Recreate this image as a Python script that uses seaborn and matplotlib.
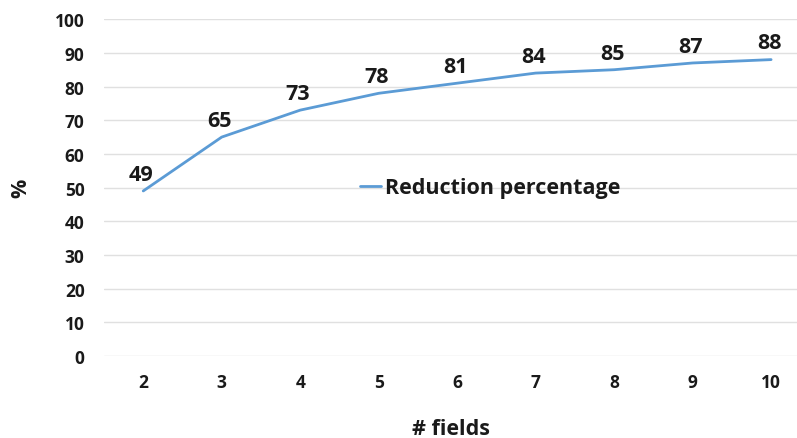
import matplotlib
matplotlib.use("Agg")
import matplotlib.pyplot as plt
import seaborn as sns
import pandas as pd

fields = [2, 3, 4, 5, 6, 7, 8, 9, 10]
reduction = [49, 65, 73, 78, 81, 84, 85, 87, 88]
yticks = [0, 10, 20, 30, 40, 50, 60, 70, 80, 90, 100]

sns.set_style("white")
plt.rcParams['font.family'] = ['Open Sans', 'DejaVu Sans']

df = pd.DataFrame({"fields": fields, "Reduction percentage": reduction})

fig = plt.figure(figsize=(7.97, 4.39), dpi=100)
ax = fig.add_axes([0.1305, 0.1868, 0.8695, 0.7672])
sns.lineplot(data=df, x="fields", y="Reduction percentage", ax=ax,
             color="#5B9BD5", linewidth=2, label="Reduction percentage")

for x, y in zip(fields, reduction):
    ax.annotate(str(y), (x, y), xytext=(-1.5, 12), textcoords="offset points",
                ha="center", va="center", fontsize=15.5, fontweight="bold",
                color="#1a1a1a")

ax.set_xlim(1.5, 10.33)
ax.set_ylim(0, 100)
ax.set_yticks(yticks)
ax.set_xticks(fields)
ax.set_xticklabels([str(f) for f in fields])
ax.grid(axis="y", color="#e0e0e0", linewidth=1)
ax.grid(axis="x", visible=False)
for s in ax.spines.values():
    s.set_visible(False)
ax.tick_params(axis="both", length=0, labelsize=12.5, colors="#1a1a1a")
ax.tick_params(axis="y", pad=14)
ax.tick_params(axis="x", pad=12)
for lab in ax.get_xticklabels() + ax.get_yticklabels():
    lab.set_fontweight("bold")

ax.set_xlabel("# fields", fontsize=15.5, fontweight="bold", color="#1a1a1a", labelpad=20)
ax.set_ylabel("%", fontsize=15.5, fontweight="bold", color="#1a1a1a", labelpad=17)

leg = ax.legend(loc="center", bbox_to_anchor=(0.557, 0.50), frameon=False,
                prop={"size": 15.5, "weight": "bold"}, handlelength=1.0,
                handletextpad=0.15)
for t in leg.get_texts():
    t.set_color("#1a1a1a")

fig.savefig("out.png", dpi=100)
